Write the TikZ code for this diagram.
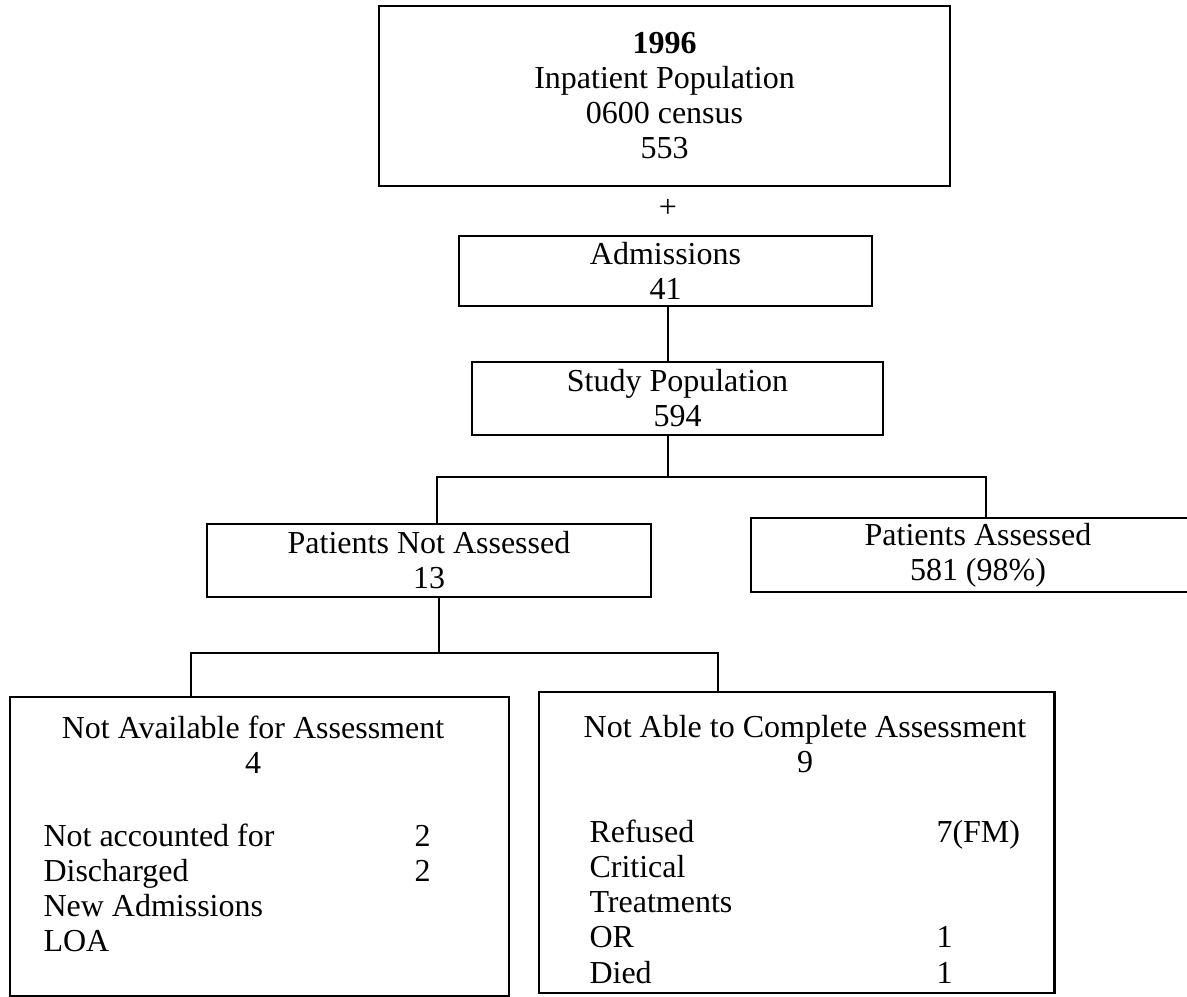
\documentclass[tikz,border=0pt]{standalone}
\usepackage{fontspec}
\setmainfont{Liberation Serif}
\usetikzlibrary{positioning}
\tikzset{box/.style={draw,line width=1pt,align=center,inner sep=0pt}}
\tikzset{title/.style={inner sep=0pt,align=center,anchor=north}}
\tikzset{list/.style={inner sep=0pt,anchor=base west}}
\tikzset{link/.style={line width=0.9pt}}

\begin{document}
\begin{tikzpicture}[x=0.4pt,y=-0.4pt,font=\fontsize{12.8}{14}\selectfont]
    \useasboundingbox (0,0) rectangle (1187,997);
    \node[box,minimum width=228.4pt,minimum height=72pt] (census) at (664.5,96) {\textbf{1996}\\Inpatient Population\\0600 census\\553};
    \node[inner sep=0pt] (plus) at (668,208) {+};
    \node[box,minimum width=165.2pt,minimum height=28pt] (adm) at (665.5,271) {Admissions\\41};
    \node[box,minimum width=164.4pt,minimum height=29.2pt] (study) at (677.5,398.5) {Study Population\\594};
    \node[box,minimum width=177.6pt,minimum height=29.2pt] (notas) at (429,560.5) {Patients Not Assessed\\13};
    \node[box,minimum width=181.6pt,minimum height=29.6pt] (assessed) at (978,555) {Patients Assessed\\581 (98\%)};
    \node[box,minimum width=199.6pt,minimum height=119.6pt] (avail) at (259.5,846.5) {};
    \node[box,minimum width=206.2pt,minimum height=120.4pt] (unable) at (796.75,842.5) {};
    \node[title] (availtitle) at (253,715) {Not Available for Assessment\\4};
    \node[title] (unabletitle) at (805,715) {Not Able to Complete Assessment\\9};
    \node[list] (availlist) at (43,847) {\begin{tabular}[t]{@{}p{136.4pt}l@{}}
        Not accounted for & 2\\
        Discharged & 2\\
        New Admissions & \\
        LOA &
      \end{tabular}};
    \node[list] (unablelist) at (589,843) {\begin{tabular}[t]{@{}p{126.8pt}l@{}}
        Refused & 7(FM)\\
        Critical & \\
        Treatments & \\
        OR & 1\\
        Died & 1
      \end{tabular}};
    \coordinate (j1) at (668,477);
    \coordinate (j1l) at (437,477);
    \coordinate (j1r) at (986,477);
    \coordinate (j2) at (439,653);
    \coordinate (j2l) at (191,653);
    \coordinate (j2r) at (718,653);
    \draw[link] (adm.south -| j1) -- (study.north -| j1);
    \draw[link] (study.south -| j1) -- (j1);
    \draw[link] (notas.north -| j1l) -- (j1l) -- (j1r) -- (assessed.north -| j1r);
    \draw[link] (notas.south -| j2) -- (j2);
    \draw[link] (avail.north -| j2l) -- (j2l) -- (j2r) -- (unable.north -| j2r);
  \end{tikzpicture}
\end{document}
